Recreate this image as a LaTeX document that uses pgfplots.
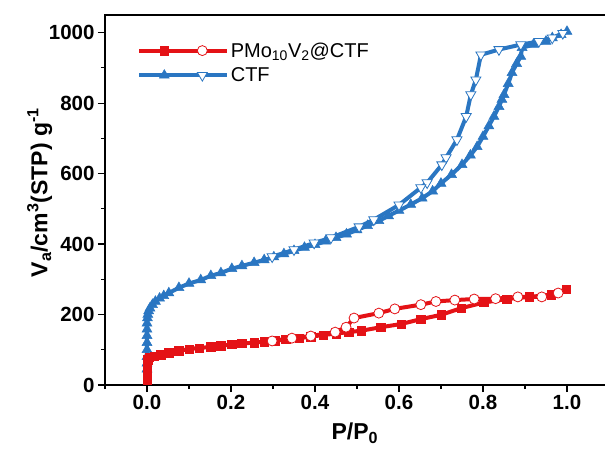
\documentclass[border=0pt]{standalone}
\usepackage{pgfplots}
\pgfplotsset{compat=1.18}
\usepackage{fontspec}
\setmainfont{Liberation Sans}
\definecolor{cred}{RGB}{228,18,22}
\definecolor{cblue}{RGB}{42,118,194}
\begin{document}
\begin{tikzpicture}
\useasboundingbox (-105pt,-65pt) rectangle (500pt,385pt);
\begin{axis}[
  at={(0pt,0pt)}, anchor=south west,
  scale only axis, width=510pt, height=370pt,
  xmin=-0.1, xmax=1.1143, ymin=0, ymax=1050,
  xtick={0,0.2,...,1.0}, minor xtick={-0.1,0.1,0.3,0.5,0.7,0.9,1.1},
  ytick={0,200,...,1000}, minor ytick={100,300,500,700,900},
  xtick pos=bottom, ytick pos=left, tick align=outside,
  major tick length=7pt, minor tick length=4pt,
  every tick/.style={black, line width=1.1pt},
  axis line style={line width=1.3pt},
  /pgf/number format/assume math mode=true,
  /pgf/number format/1000 sep={},
  xticklabel style={/pgf/number format/.cd, fixed, fixed zerofill, precision=1},
  ticklabel style={font=\fontsize{20.5}{22}\selectfont\bfseries},
  xlabel={P/P\textsubscript{0}},
  ylabel={V\textsubscript{a}/cm\textsuperscript{3}(STP) g\textsuperscript{-1}},
  label style={font=\fontsize{23}{26}\selectfont\bfseries},
  xlabel style={at={(axis description cs:0.49,0)}, anchor=center, yshift=-48pt},
  ylabel style={at={(axis description cs:-0.128,0.52)}, anchor=center},
  legend style={at={(axis description cs:0.063,0.93)}, anchor=north west, draw=none, fill=none,
    font=\fontsize{20}{22}\selectfont, row sep=6pt, inner sep=0pt, nodes={inner sep=1.5pt}},
  legend cell align=left,
]
\addlegendimage{legend image code/.code={
  \draw[cred, line width=4pt] (0pt,0pt) -- (88pt,0pt);
  \path plot[mark=square*, mark size=4.2pt, mark options={draw=cred, fill=cred}] coordinates {(25pt,0pt)};
  \path plot[mark=*, mark size=5pt, mark options={draw=cred, fill=white, line width=0.8pt}] coordinates {(63pt,0pt)};
}}
\addlegendentry{PMo\textsubscript{10}V\textsubscript{2}@CTF}
\addlegendimage{legend image code/.code={
  \draw[cblue, line width=4pt] (0pt,0pt) -- (88pt,0pt);
  \path plot[mark=triangle*, mark size=5.8pt, mark options={draw=cblue, fill=cblue}] coordinates {(25pt,0pt)};
  \path plot[mark=triangle*, mark size=5.8pt, mark options={draw=cblue, fill=white, rotate=180, line width=0.8pt}] coordinates {(63pt,0pt)};
}}
\addlegendentry{CTF}
% CTF adsorption
\addplot[forget plot, cblue, line width=4pt, mark=triangle*, mark size=5.8pt, mark options={draw=cblue, fill=cblue, line width=0.5pt}] coordinates {
(0,45)(0,62)(0,80)(0,100)(0,120)(0,140)(0,158)(0,175)(0.001,190)(0.002,200)(0.004,210)(0.007,218)(0.013,228)(0.02,237)(0.03,246)(0.04,253)(0.052,261)(0.076,276)(0.1,288)(0.128,298)(0.152,310)(0.176,318)(0.202,330)(0.226,338)(0.255,347)(0.279,355)(0.302,363)(0.326,372)(0.35,381)(0.375,390)(0.40,398)(0.425,408)(0.45,418)(0.475,428)(0.50,440)(0.525,452)(0.552,466)(0.575,480)(0.60,495)(0.628,512)(0.655,530)(0.68,550)(0.70,572)(0.725,597)(0.75,625)(0.77,652)(0.786,676)(0.80,705)(0.814,735)(0.826,762)(0.838,790)(0.845,810)(0.85,824)(0.86,855)(0.869,886)(0.88,912)(0.89,932)(0.893,957)(0.92,966)(0.95,975)(0.965,985)(0.986,994)(1.0,1003)
};
% CTF desorption
\addplot[forget plot, cblue, line width=4pt, mark=triangle*, mark size=5.8pt, mark options={draw=cblue, fill=white, rotate=180, line width=0.8pt}] coordinates {
(0.99,998)(0.965,985)(0.933,975)(0.89,966)(0.838,952)(0.795,937)(0.783,866)(0.771,824)(0.76,762)(0.738,696)(0.712,645)(0.702,625)(0.667,574)(0.652,560)(0.6,511)(0.54,469)(0.505,449)(0.438,418)(0.398,403)(0.35,384)(0.298,364)
};
% PMo10V2@CTF adsorption
\addplot[forget plot, cred, line width=4pt, mark=square*, mark size=4.2pt, mark options={draw=cred, fill=cred, line width=0.5pt}] coordinates {
(0,15)(0,25)(0,38)(0,50)(0,62)(0.002,72)(0.006,78)(0.017,82)(0.033,86)(0.052,91)(0.076,97)(0.1,102)(0.124,105)(0.152,108)(0.176,111)(0.202,115)(0.226,118)(0.255,120)(0.279,123)(0.305,126)(0.33,129)(0.362,133)(0.39,137)(0.42,142)(0.45,146)(0.48,150)(0.51,154)(0.557,164)(0.605,173)(0.652,187)(0.70,199)(0.748,218)(0.802,234)(0.857,244)(0.91,250)(0.962,256)(0.998,272)
};
% PMo10V2@CTF desorption
\addplot[forget plot, cred, line width=4pt, mark=*, mark size=5pt, mark options={draw=cred, fill=white, line width=0.8pt}] coordinates {
(0.979,261)(0.94,250)(0.883,250)(0.83,245)(0.779,244)(0.733,241)(0.688,237)(0.652,228)(0.59,216)(0.552,204)(0.493,190)(0.474,164)(0.448,150)(0.39,139)(0.345,133)(0.298,125)
};
\end{axis}
\end{tikzpicture}
\end{document}
